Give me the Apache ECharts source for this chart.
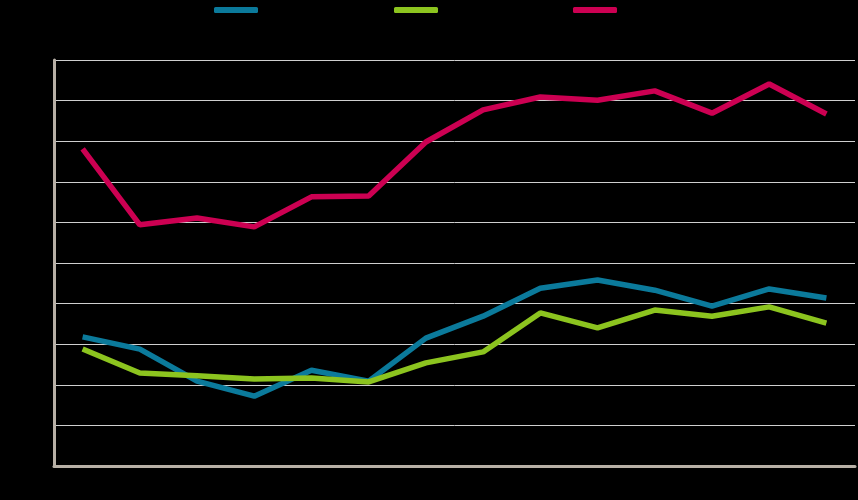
<!DOCTYPE html>
<html>
<head>
<meta charset="utf-8">
<script src="https://cdn.jsdelivr.net/npm/echarts@6/dist/echarts.min.js"></script>
<style>
  html, body { margin: 0; padding: 0; background: #000; }
  #chart { width: 858px; height: 500px; }
</style>
</head>
<body>
<div id="chart"></div>
<script>
// 14 periods, labels are not visible in the original
const categories = ['1', '2', '3', '4', '5', '6', '7', '8', '9', '10', '11', '12', '13', '14'];

const blueValues  = [31.8, 28.8, 20.9, 17.2, 23.6, 20.9, 31.5, 36.9, 43.8, 45.8, 43.3, 39.4, 43.6, 41.4];
const greenValues = [28.8, 22.9, 22.2, 21.4, 21.7, 20.7, 25.4, 28.1, 37.7, 34.0, 38.4, 36.9, 39.2, 35.2];
const redValues   = [78.1, 59.4, 61.1, 58.9, 66.3, 66.5, 79.8, 87.7, 90.9, 90.1, 92.4, 86.9, 94.1, 86.7];

const names = ['Series 1', 'Series 2', 'Series 3'];
const colors = ['#0b7a9b', '#8cc41f', '#cc0052'];

const chart = echarts.init(document.getElementById('chart'));

function legendAt(name, left) {
  return {
    data: [name],
    left: left,
    top: 4,
    padding: 0,
    icon: 'roundRect',
    itemWidth: 44,
    itemHeight: 6,
    textStyle: { color: '#000' }
  };
}

function line(name, color, data) {
  return {
    name: name,
    type: 'line',
    data: data,
    symbol: 'none',
    lineStyle: { color: color, width: 5.5 },
    itemStyle: { color: color },
    animation: false
  };
}

const option = {
  backgroundColor: '#000',
  legend: [
    legendAt(names[0], 214),
    legendAt(names[1], 394),
    legendAt(names[2], 573)
  ],
  grid: {
    left: 54,
    right: 3,
    top: 60,
    bottom: 34
  },
  xAxis: {
    type: 'category',
    data: categories,
    boundaryGap: true,
    axisLine: { lineStyle: { color: '#b8b0a6', width: 3 } },
    axisTick: { show: false },
    axisLabel: { color: '#000' }
  },
  yAxis: {
    type: 'value',
    min: 0,
    max: 100,
    interval: 10,
    axisLine: { show: true, lineStyle: { color: '#b8b0a6', width: 3 } },
    axisTick: { show: false },
    axisLabel: { color: '#000' },
    splitLine: { lineStyle: { color: '#cfcfcf', width: 1 } }
  },
  series: [
    line(names[0], colors[0], blueValues),
    line(names[1], colors[1], greenValues),
    line(names[2], colors[2], redValues)
  ]
};

chart.setOption(option);
</script>
</body>
</html>
